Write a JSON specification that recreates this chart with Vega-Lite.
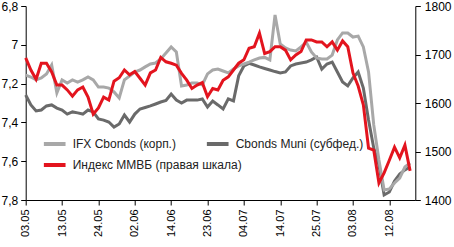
{
  "$schema": "https://vega.github.io/schema/vega-lite/v6.json",
  "width": 389.6,
  "height": 194,
  "autosize": {"type": "none"},
  "padding": {"left": 25.7, "top": 6, "right": 38.7, "bottom": 47},
  "background": "white",
  "config": {
    "view": {"stroke": null},
    "font": "Liberation Sans",
    "axis": {"domainColor": "black", "tickColor": "black", "labelColor": "black", "grid": false, "title": null, "tickSize": 5, "labelFontSize": 12, "domainWidth": 1, "tickWidth": 1, "labelOverlap": false, "labelFlush": false},
    "legend": {
      "orient": "none", "direction": "horizontal",
      "symbolType": "stroke", "symbolStrokeWidth": 4, "symbolSize": 470,
      "labelFontSize": 12, "labelColor": "#222222", "labelOffset": 5, "columnPadding": 22,
      "title": null, "padding": 0, "labelLimit": 300
    }
  },
  "data": {"values": [
    {"d": "03.05", "ifx": 7.156, "muni": 7.259, "micex": 1693},
    {"d": "04.05", "ifx": 7.166, "muni": 7.310, "micex": 1668},
    {"d": "05.05", "ifx": 7.181, "muni": 7.341, "micex": 1649},
    {"d": "06.05", "ifx": 7.171, "muni": 7.336, "micex": 1682},
    {"d": "10.05", "ifx": 7.150, "muni": 7.315, "micex": 1682},
    {"d": "11.05", "ifx": 7.104, "muni": 7.310, "micex": 1664},
    {"d": "12.05", "ifx": 7.248, "muni": 7.326, "micex": 1637},
    {"d": "13.05", "ifx": 7.181, "muni": 7.336, "micex": 1637},
    {"d": "16.05", "ifx": 7.197, "muni": 7.357, "micex": 1627},
    {"d": "17.05", "ifx": 7.181, "muni": 7.346, "micex": 1614},
    {"d": "18.05", "ifx": 7.192, "muni": 7.351, "micex": 1627},
    {"d": "19.05", "ifx": 7.181, "muni": 7.357, "micex": 1633},
    {"d": "20.05", "ifx": 7.166, "muni": 7.336, "micex": 1612},
    {"d": "23.05", "ifx": 7.181, "muni": 7.346, "micex": 1577},
    {"d": "24.05", "ifx": 7.218, "muni": 7.382, "micex": 1590},
    {"d": "25.05", "ifx": 7.218, "muni": 7.388, "micex": 1612},
    {"d": "26.05", "ifx": 7.223, "muni": 7.398, "micex": 1606},
    {"d": "27.05", "ifx": 7.243, "muni": 7.424, "micex": 1645},
    {"d": "30.05", "ifx": 7.274, "muni": 7.408, "micex": 1652},
    {"d": "31.05", "ifx": 7.181, "muni": 7.362, "micex": 1668},
    {"d": "01.06", "ifx": 7.161, "muni": 7.398, "micex": 1658},
    {"d": "02.06", "ifx": 7.140, "muni": 7.357, "micex": 1665},
    {"d": "03.06", "ifx": 7.130, "muni": 7.331, "micex": 1651},
    {"d": "06.06", "ifx": 7.114, "muni": 7.323, "micex": 1637},
    {"d": "07.06", "ifx": 7.099, "muni": 7.315, "micex": 1662},
    {"d": "08.06", "ifx": 7.094, "muni": 7.305, "micex": 1668},
    {"d": "09.06", "ifx": 7.073, "muni": 7.295, "micex": 1694},
    {"d": "10.06", "ifx": 7.042, "muni": 7.287, "micex": 1685},
    {"d": "14.06", "ifx": 7.011, "muni": 7.254, "micex": 1682},
    {"d": "15.06", "ifx": 7.037, "muni": 7.285, "micex": 1678},
    {"d": "16.06", "ifx": 7.212, "muni": 7.300, "micex": 1661},
    {"d": "17.06", "ifx": 7.207, "muni": 7.285, "micex": 1647},
    {"d": "20.06", "ifx": 7.197, "muni": 7.285, "micex": 1630},
    {"d": "21.06", "ifx": 7.197, "muni": 7.285, "micex": 1637},
    {"d": "22.06", "ifx": 7.207, "muni": 7.279, "micex": 1642},
    {"d": "23.06", "ifx": 7.150, "muni": 7.321, "micex": 1613},
    {"d": "24.06", "ifx": 7.130, "muni": 7.290, "micex": 1630},
    {"d": "27.06", "ifx": 7.125, "muni": 7.310, "micex": 1627},
    {"d": "28.06", "ifx": 7.135, "muni": 7.331, "micex": 1647},
    {"d": "29.06", "ifx": 7.145, "muni": 7.279, "micex": 1654},
    {"d": "30.06", "ifx": 7.125, "muni": 7.289, "micex": 1668},
    {"d": "01.07", "ifx": 7.109, "muni": 7.160, "micex": 1682},
    {"d": "04.07", "ifx": 7.099, "muni": 7.109, "micex": 1689},
    {"d": "05.07", "ifx": 7.089, "muni": 7.096, "micex": 1713},
    {"d": "06.07", "ifx": 7.078, "muni": 7.104, "micex": 1716},
    {"d": "07.07", "ifx": 7.068, "muni": 7.114, "micex": 1744},
    {"d": "08.07", "ifx": 7.065, "muni": 7.122, "micex": 1702},
    {"d": "12.07", "ifx": 7.078, "muni": 7.130, "micex": 1706},
    {"d": "13.07", "ifx": 6.846, "muni": 7.138, "micex": 1716},
    {"d": "14.07", "ifx": 6.996, "muni": 7.145, "micex": 1716},
    {"d": "15.07", "ifx": 7.016, "muni": 7.140, "micex": 1709},
    {"d": "18.07", "ifx": 7.027, "muni": 7.109, "micex": 1689},
    {"d": "19.07", "ifx": 7.032, "muni": 7.099, "micex": 1699},
    {"d": "20.07", "ifx": 7.011, "muni": 7.094, "micex": 1706},
    {"d": "21.07", "ifx": 6.986, "muni": 7.089, "micex": 1730},
    {"d": "22.07", "ifx": 7.037, "muni": 7.078, "micex": 1730},
    {"d": "25.07", "ifx": 7.068, "muni": 7.063, "micex": 1726},
    {"d": "26.07", "ifx": 7.073, "muni": 7.125, "micex": 1726},
    {"d": "27.07", "ifx": 7.073, "muni": 7.099, "micex": 1716},
    {"d": "28.07", "ifx": 7.053, "muni": 7.089, "micex": 1726},
    {"d": "29.07", "ifx": 6.975, "muni": 7.140, "micex": 1709},
    {"d": "01.08", "ifx": 6.939, "muni": 7.192, "micex": 1728},
    {"d": "02.08", "ifx": 6.939, "muni": 7.212, "micex": 1716},
    {"d": "03.08", "ifx": 6.960, "muni": 7.171, "micex": 1662},
    {"d": "04.08", "ifx": 6.955, "muni": 7.140, "micex": 1635},
    {"d": "05.08", "ifx": 7.011, "muni": 7.223, "micex": 1596},
    {"d": "08.08", "ifx": 7.140, "muni": 7.388, "micex": 1507},
    {"d": "09.08", "ifx": 7.413, "muni": 7.532, "micex": 1503},
    {"d": "10.08", "ifx": 7.594, "muni": 7.620, "micex": 1435},
    {"d": "11.08", "ifx": 7.748, "muni": 7.774, "micex": 1456},
    {"d": "12.08", "ifx": 7.743, "muni": 7.759, "micex": 1482},
    {"d": "15.08", "ifx": 7.712, "muni": 7.702, "micex": 1509},
    {"d": "16.08", "ifx": 7.687, "muni": 7.666, "micex": 1487},
    {"d": "17.08", "ifx": 7.630, "muni": 7.645, "micex": 1513},
    {"d": "18.08", "ifx": 7.609, "muni": 7.630, "micex": 1460}
  ]},
  "encoding": {
    "x": {
      "field": "d", "type": "ordinal",
      "scale": {"type": "point", "padding": 0, "domain": ["03.05","04.05","05.05","06.05","10.05","11.05","12.05","13.05","16.05","17.05","18.05","19.05","20.05","23.05","24.05","25.05","26.05","27.05","30.05","31.05","01.06","02.06","03.06","06.06","07.06","08.06","09.06","10.06","14.06","15.06","16.06","17.06","20.06","21.06","22.06","23.06","24.06","27.06","28.06","29.06","30.06","01.07","04.07","05.07","06.07","07.07","08.07","12.07","13.07","14.07","15.07","18.07","19.07","20.07","21.07","22.07","25.07","26.07","27.07","28.07","29.07","01.08","02.08","03.08","04.08","05.08","08.08","09.08","10.08","11.08","12.08","15.08","16.08","17.08","18.08","19.08"]},
      "axis": {"values": ["03.05","13.05","24.05","02.06","14.06","23.06","04.07","14.07","25.07","03.08","12.08"], "labelAngle": 270, "labelFontSize": 11, "labelPadding": 4}
    }
  },
  "layer": [
    {
      "transform": [{"fold": ["muni", "ifx"], "as": ["series", "value"]}],
      "mark": {"type": "line", "strokeWidth": 3},
      "encoding": {
        "y": {"field": "value", "type": "quantitative", "scale": {"domain": [6.8, 7.8], "reverse": true, "nice": false, "zero": false},
              "axis": {"orient": "left", "values": [6.8, 7, 7.2, 7.4, 7.6, 7.8], "labelExpr": "replace(format(datum.value, '.1~f'), '.', ',')", "labelPadding": 3, "labelOverlap": false, "domain": true, "ticks": true}},
        "stroke": {"field": "series", "type": "nominal", "scale": {"domain": ["ifx", "muni"], "range": ["#a8a8a8", "#6a6a6a"]},
                   "legend": {"legendX": 16, "legendY": 125, "labelExpr": "datum.label == 'ifx' ? 'IFX Cbonds (корп.)' : 'Cbonds Muni (субфед.)'"}},
        "order": {"value": 0}
      }
    },
    {
      "mark": {"type": "line", "strokeWidth": 3},
      "encoding": {
        "y": {"field": "micex", "type": "quantitative", "scale": {"domain": [1400, 1800], "nice": false, "zero": false},
              "axis": {"orient": "right", "values": [1400, 1500, 1600, 1700, 1800], "format": "d", "labelPadding": 4, "labelOverlap": false}},
        "color": {"datum": "micex", "scale": {"domain": ["micex"], "range": ["#e3141e"]},
                  "legend": {"legendX": 16, "legendY": 146, "labelExpr": "'Индекс ММВБ (правая шкала)'"}}
      }
    }
  ],
  "resolve": {"scale": {"y": "independent"}, "axis": {"y": "independent"}}
}
